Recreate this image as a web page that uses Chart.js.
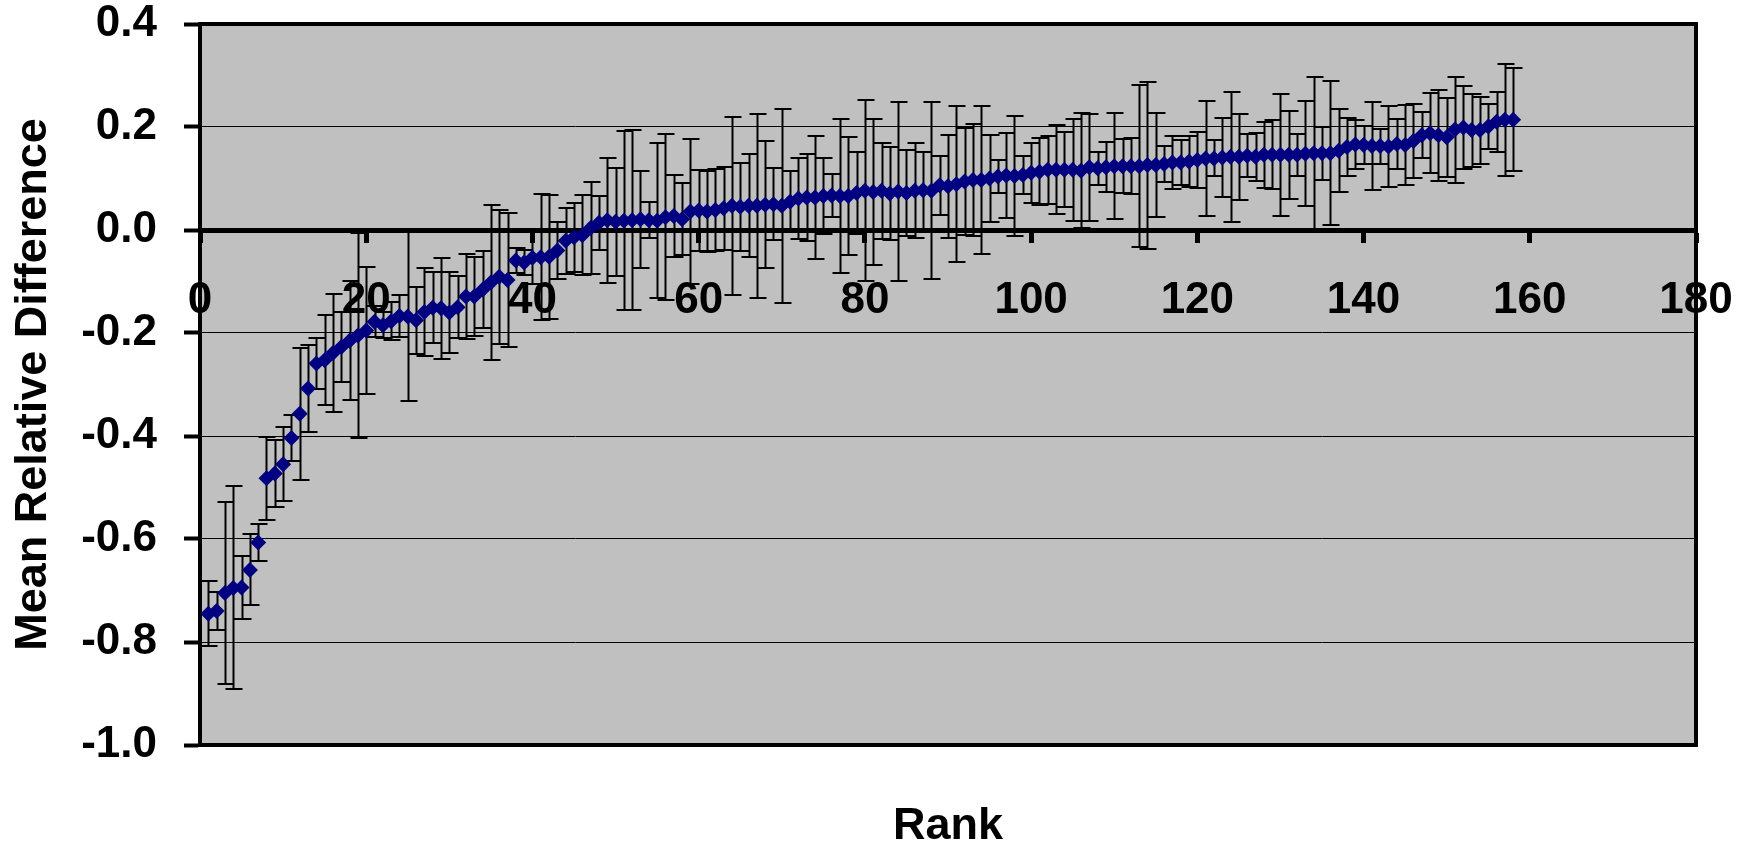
<!DOCTYPE html>
<html>
<head>
<meta charset="utf-8">
<title>Mean Relative Difference by Rank</title>
<script src="https://cdn.jsdelivr.net/npm/chart.js@4.4.1/dist/chart.umd.min.js"></script>
<style>
  html, body { margin: 0; padding: 0; background: #fff; }
  canvas { display: block; }
</style>
</head>
<body>
<canvas id="rankChart" width="1752" height="842"></canvas>
<script>
// mean relative difference, sorted by rank (rank = position in list, 1..158)
const meanDiff = [
  -0.745, -0.740, -0.705, -0.695, -0.694, -0.660, -0.607, -0.482, -0.473, -0.455,
  -0.404, -0.357, -0.308, -0.259, -0.253, -0.239, -0.227, -0.215, -0.205, -0.195,
  -0.178, -0.185, -0.177, -0.167, -0.168, -0.175, -0.159, -0.151, -0.152, -0.160,
  -0.150, -0.129, -0.129, -0.116, -0.102, -0.091, -0.097, -0.059, -0.063, -0.054,
  -0.053, -0.052, -0.040, -0.021, -0.014, -0.010, 0.004, 0.014, 0.019, 0.016,
  0.018, 0.019, 0.021, 0.019, 0.018, 0.025, 0.027, 0.021, 0.036, 0.038,
  0.036, 0.039, 0.042, 0.047, 0.045, 0.047, 0.047, 0.049, 0.050, 0.047,
  0.055, 0.061, 0.063, 0.063, 0.066, 0.067, 0.066, 0.066, 0.072, 0.076,
  0.074, 0.076, 0.071, 0.075, 0.072, 0.076, 0.077, 0.076, 0.087, 0.085,
  0.089, 0.094, 0.097, 0.097, 0.100, 0.104, 0.106, 0.105, 0.107, 0.111,
  0.113, 0.117, 0.117, 0.117, 0.117, 0.115, 0.122, 0.120, 0.122, 0.124,
  0.124, 0.124, 0.124, 0.126, 0.126, 0.128, 0.131, 0.131, 0.133, 0.136,
  0.139, 0.139, 0.141, 0.142, 0.142, 0.144, 0.142, 0.146, 0.146, 0.146,
  0.146, 0.146, 0.148, 0.149, 0.149, 0.149, 0.154, 0.161, 0.166, 0.165,
  0.163, 0.163, 0.162, 0.167, 0.165, 0.173, 0.184, 0.188, 0.184, 0.180,
  0.195, 0.199, 0.194, 0.194, 0.201, 0.210, 0.214, 0.214
];

// +/- error for each point
const errSize = [
  0.063, 0.037, 0.176, 0.197, 0.061, 0.069, 0.036, 0.081, 0.065, 0.072,
  0.045, 0.128, 0.084, 0.050, 0.087, 0.115, 0.068, 0.115, 0.199, 0.123,
  0.030, 0.025, 0.037, 0.040, 0.164, 0.065, 0.085, 0.069, 0.098, 0.078,
  0.060, 0.083, 0.077, 0.075, 0.151, 0.130, 0.130, 0.025, 0.025, 0.050,
  0.122, 0.120, 0.056, 0.064, 0.067, 0.077, 0.089, 0.052, 0.121, 0.105,
  0.174, 0.175, 0.094, 0.035, 0.150, 0.161, 0.079, 0.070, 0.141, 0.078,
  0.079, 0.079, 0.080, 0.173, 0.085, 0.100, 0.179, 0.123, 0.070, 0.188,
  0.059, 0.078, 0.084, 0.119, 0.074, 0.041, 0.149, 0.114, 0.080, 0.176,
  0.142, 0.093, 0.090, 0.174, 0.084, 0.092, 0.075, 0.172, 0.057, 0.100,
  0.151, 0.104, 0.109, 0.143, 0.085, 0.032, 0.083, 0.117, 0.037, 0.058,
  0.065, 0.066, 0.086, 0.073, 0.099, 0.112, 0.104, 0.032, 0.049, 0.103,
  0.052, 0.055, 0.157, 0.162, 0.101, 0.035, 0.052, 0.044, 0.049, 0.055,
  0.112, 0.035, 0.076, 0.126, 0.083, 0.042, 0.046, 0.064, 0.067, 0.118,
  0.086, 0.041, 0.102, 0.148, 0.051, 0.140, 0.081, 0.056, 0.048, 0.037,
  0.086, 0.034, 0.079, 0.049, 0.077, 0.072, 0.045, 0.078, 0.088, 0.077,
  0.103, 0.081, 0.071, 0.065, 0.044, 0.058, 0.109, 0.100
];

const rankTicks = [0, 20, 40, 60, 80, 100, 120, 140, 160, 180];
const diffTicks = [-1.0, -0.8, -0.6, -0.4, -0.2, 0.0, 0.2, 0.4];

const points = meanDiff.map((v, i) => ({ x: i + 1, y: v }));

Chart.defaults.font.family = '"Liberation Sans", Arial, sans-serif';
Chart.defaults.font.weight = 'bold';
Chart.defaults.color = '#000';

// grey plot area behind everything
const plotBackground = {
    id: 'plotBackground',
    beforeDraw(chart) {
        const { ctx, chartArea: a } = chart;
        ctx.save();
        ctx.fillStyle = '#c0c0c0';
        ctx.fillRect(a.left, a.top, a.right - a.left, a.bottom - a.top);
        ctx.restore();
    }
};

// black frame + error bars, under the markers
const errorBars = {
    id: 'errorBars',
    beforeDatasetsDraw(chart) {
        const { ctx, chartArea: a, scales: { x, y } } = chart;
        ctx.save();
        ctx.strokeStyle = '#000';
        ctx.lineWidth = 4;
        ctx.strokeRect(a.left, a.top, a.right - a.left, a.bottom - a.top);

        ctx.lineWidth = 2;
        ctx.beginPath();
        meanDiff.forEach((v, i) => {
            const px = Math.round(x.getPixelForValue(i + 1)) + 0.5;
            const hi = Math.round(y.getPixelForValue(v + errSize[i]));
            const lo = Math.round(y.getPixelForValue(v - errSize[i]));
            ctx.moveTo(px, hi);
            ctx.lineTo(px, lo);
            ctx.moveTo(px - 8, hi);
            ctx.lineTo(px + 9, hi);
            ctx.moveTo(px - 8, lo);
            ctx.lineTo(px + 9, lo);
        });
        ctx.stroke();
        ctx.restore();
    }
};

const rankConfig = {
    type: 'line',
    data: {
        datasets: [{
            data: points,
            showLine: false,
            pointStyle: 'rectRot',
            pointRadius: 8,
            pointBorderWidth: 0,
            pointBackgroundColor: '#000080',
            pointBorderColor: '#000080',
        }]
    },
    options: {
        responsive: false,
        animation: false,
        devicePixelRatio: 1,
        layout: {
            padding: { left: 0, right: 56, top: 0, bottom: -7 }
        },
        scales: {
            x: {
                type: 'linear',
                position: { y: 0 },
                min: 0,
                max: 180,
                afterFit: (scale) => {
                    scale.paddingLeft = 0;
                    scale.paddingRight = 0;
                },
                afterBuildTicks: (scale) => {
                    scale.ticks = rankTicks.map(v => ({ value: v }));
                },
                ticks: {
                    font: { size: 44, weight: 'bold' },
                    padding: 34,
                    maxRotation: 0,
                    autoSkip: false,
                },
                grid: {
                    drawOnChartArea: false,
                    drawTicks: true,
                    tickLength: 10,
                    tickWidth: 5,
                    tickColor: '#000',
                },
                border: { display: true, color: '#000', width: 5 },
            },
            xTitle: {
                type: 'linear',
                position: 'bottom',
                axis: 'x',
                min: 0,
                max: 180,
                afterFit: (scale) => {
                    scale.paddingLeft = 0;
                    scale.paddingRight = 0;
                },
                ticks: { display: false },
                grid: { display: false, drawTicks: false },
                border: { display: false },
                title: {
                    display: true,
                    text: 'Rank',
                    font: { size: 45, weight: 'bold', lineHeight: 1 },
                    padding: { top: 59, bottom: 0 },
                },
            },
            y: {
                type: 'linear',
                position: 'left',
                min: -1.0,
                max: 0.4,
                afterFit: (scale) => {
                    scale.width = 200;
                    scale.paddingTop = 24;
                },
                afterBuildTicks: (scale) => {
                    scale.ticks = diffTicks.map(v => ({ value: v }));
                },
                ticks: {
                    font: { size: 44, weight: 'bold' },
                    padding: 27,
                    callback: (value) => value.toFixed(1),
                },
                grid: {
                    color: '#000',
                    lineWidth: 1,
                    drawTicks: true,
                    tickLength: 16,
                    tickWidth: 4,
                    tickColor: '#000',
                },
                border: { display: true, color: '#000', width: 4 },
                title: {
                    display: true,
                    text: 'Mean Relative Difference',
                    font: { size: 45, weight: 'bold', lineHeight: 1.2 },
                    padding: { top: 7, bottom: 0 },
                },
            }
        },
        plugins: {
            legend: { display: false },
            title: { display: false },
            tooltip: { enabled: false },
        }
    },
    plugins: [plotBackground, errorBars],
};

const rankCtx = document.getElementById('rankChart').getContext('2d');
new Chart(rankCtx, rankConfig);
</script>
</body>
</html>
